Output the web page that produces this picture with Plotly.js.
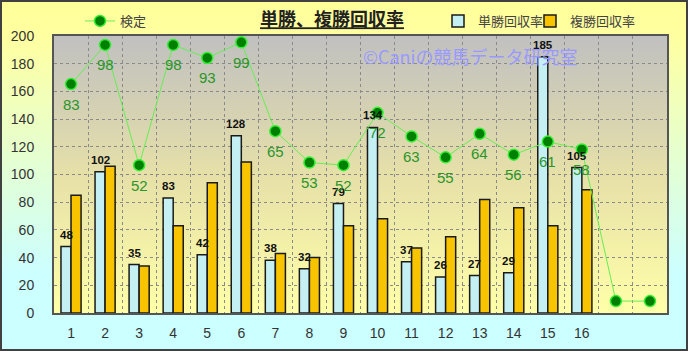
<!DOCTYPE html>
<html>
<head>
<meta charset="utf-8">
<script src="https://cdn.plot.ly/plotly-3.0.1.min.js"></script>
<style>
html,body{margin:0;padding:0;}
#wrap{position:relative;width:688px;height:351px;overflow:hidden;
background:linear-gradient(to bottom,#ffff99 0%,#ffffa0 10%,#ccffff 78%,#ccffff 100%);}
#wrap:after{content:"";position:absolute;left:0;top:0;right:0;bottom:0;box-shadow:inset 0 0 0 2px #404040;pointer-events:none;}
#chart{position:absolute;left:0;top:0;width:688px;height:351px;}
</style>
</head>
<body>
<div id="wrap"><div id="chart"></div></div>
<script>
// ---- data ----
const races = [1,2,3,4,5,6,7,8,9,10,11,12,13,14,15,16];
const raceLabels = ['1','2','3','4','5','6','7','8','9','10','11','12','13','14','15','16'];
const tanshoRate = [48,102,35,83,42,128,38,32,79,134,37,26,27,29,185,105];
const fukushoRate = [85,106,34,63,94,109,43,40,63,68,47,55,82,76,63,89];
const kenteiX = [1,2,3,4,5,6,7,8,9,10,11,12,13,14,15,16,17,18];
const kenteiVals = [83,98,52,98,93,99,65,53,52,72,63,55,64,56,61,58,0,0];
const kenteiLabels = ['83','98','52','98','93','99','65','53','52','72','63','55','64','56','61','58','',''];

const seriesNames = ['単勝回収率','複勝回収率','検定'];

const gradSvg = "<svg xmlns='http://www.w3.org/2000/svg' width='10' height='100' preserveAspectRatio='none'>" +
 "<defs><linearGradient id='g' x1='0' y1='0' x2='0' y2='1'>" +
 "<stop offset='0' stop-color='#c0c0c0'/><stop offset='0.5' stop-color='#e6e0a8'/><stop offset='1' stop-color='#ffffa8'/>" +
 "</linearGradient></defs><rect width='10' height='100' fill='url(#g)'/></svg>";
const gradUri = 'data:image/svg+xml;charset=utf-8,' + encodeURIComponent(gradSvg);

const W = 688, H = 351;
const tickFont = {family:'Liberation Sans, Arial, sans-serif', size:14, color:'#333'};

const traces = [
 {type:'bar', name:seriesNames[0], x:races, y:tanshoRate,
  marker:{color:'#c4f0f4', line:{color:'#1a1a1a', width:1.5}}, legend:'legend2', hoverinfo:'skip'},
 {type:'bar', name:seriesNames[1], x:races, y:fukushoRate,
  marker:{color:'#f8c400', line:{color:'#1a1a1a', width:1.5}}, legend:'legend3', hoverinfo:'skip'},
 {type:'scatter', mode:'lines+markers', name:seriesNames[2], x:kenteiX, y:kenteiVals, yaxis:'y2',
  line:{color:'#66ee55', width:1}, cliponaxis:false,
  marker:{size:11, color:'#008000', line:{color:'#33ee33', width:1.5}}, legend:'legend', hoverinfo:'skip'}
];

const annotations = [];
races.forEach((x,i)=>{
  annotations.push({x:x, y:tanshoRate[i], xref:'x', yref:'y', text:String(tanshoRate[i]), showarrow:false,
    xshift:-5, yshift:12, xanchor:'center', yanchor:'middle',
    font:{family:'Liberation Sans, Arial, sans-serif', size:11.5, color:'#111', weight:'bold'}});
});
kenteiX.forEach((x,i)=>{
  if (kenteiLabels[i] !== '') {
    annotations.push({x:x, y:kenteiVals[i], xref:'x', yref:'y2', text:kenteiLabels[i], showarrow:false,
      yshift:-20, xanchor:'center', yanchor:'middle',
      font:{family:'Liberation Sans, Arial, sans-serif', size:15, color:'#2a962a'}});
  }
});
annotations.push({xref:'paper', yref:'paper', x:(470-54)/613, y:(313-55)/278, xanchor:'center', yanchor:'middle',
  text:'©Caniの競馬データ研究室', showarrow:false,
  font:{family:'Noto Sans CJK JP, sans-serif', size:18, color:'#9999ff'}});

const legendFont = {family:'Noto Sans CJK JP, sans-serif', size:13, color:'#444'};
const layout = {
  width:W, height:H,
  margin:{l:54, r:21, t:35, b:38},
  paper_bgcolor:'rgba(0,0,0,0)', plot_bgcolor:'rgba(0,0,0,0)',
  title:{text:'<b><u>単勝、複勝回収率</u></b>', xref:'container', yref:'container', x:332/W, y:1-20/H,
    xanchor:'center', yanchor:'middle', font:{family:'Noto Sans CJK JP, sans-serif', size:18, color:'#222'}},
  showlegend:true,
  legend:{xref:'container', yref:'container', x:80/W, y:1-21/H, xanchor:'left', yanchor:'middle',
    orientation:'h', bgcolor:'rgba(0,0,0,0)', font:legendFont, itemwidth:30},
  legend2:{xref:'container', yref:'container', x:438/W, y:1-21/H, xanchor:'left', yanchor:'middle',
    orientation:'h', bgcolor:'rgba(0,0,0,0)', font:legendFont, itemwidth:30},
  legend3:{xref:'container', yref:'container', x:530/W, y:1-21/H, xanchor:'left', yanchor:'middle',
    orientation:'h', bgcolor:'rgba(0,0,0,0)', font:legendFont, itemwidth:30},
  barmode:'group', bargap:0.41, bargroupgap:0,
  xaxis:{type:'linear', range:[0.5,18.5], tickmode:'array', tickvals:races, ticktext:raceLabels,
    showgrid:false, zeroline:false, ticks:'outside', ticklen:6, tickcolor:'rgba(0,0,0,0)',
    tickfont:tickFont, showline:true, linecolor:'#555', linewidth:2, mirror:true,
    minor:{tickmode:'linear', tick0:0.5, dtick:1, showgrid:true, gridcolor:'#8a8a8a', griddash:'dot', gridwidth:1}},
  yaxis:{range:[0,200], dtick:20, showgrid:true, gridcolor:'#8a8a8a', griddash:'dot', gridwidth:1,
    zeroline:false, ticks:'outside', ticklen:15, tickcolor:'rgba(0,0,0,0)', tickfont:tickFont,
    showline:true, linecolor:'#555', linewidth:2, mirror:true},
  yaxis2:{overlaying:'y', range:[-4.56,101.4], visible:false, showgrid:false, zeroline:false},
  images:[{source:gradUri, xref:'paper', yref:'paper', x:0, y:1, sizex:1, sizey:1,
    xanchor:'left', yanchor:'top', sizing:'stretch', layer:'below'}],
  annotations:annotations
};

Plotly.newPlot('chart', traces, layout, {staticPlot:true, displayModeBar:false});
</script>
</body>
</html>
